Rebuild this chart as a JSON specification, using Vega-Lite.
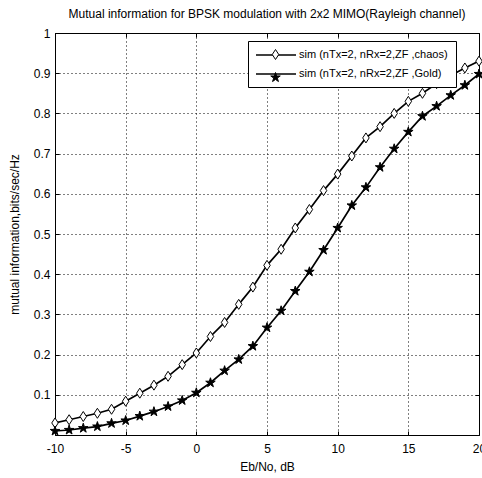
{
  "$schema": "https://vega.github.io/schema/vega-lite/v6.json",
  "autosize": "none",
  "width": 424,
  "height": 402,
  "padding": {"left": 55, "top": 33, "right": 3, "bottom": 43},
  "background": "white",
  "title": {"text": "Mutual information for BPSK modulation with 2x2 MIMO(Rayleigh channel)", "font": "Liberation Sans", "fontSize": 12, "fontWeight": "normal", "color": "black", "anchor": "middle", "baseline": "bottom", "offset": 10, "dy": 16},
  "config": {
    "view": {"stroke": "black", "strokeWidth": 1},
    "axis": {"labelFont": "Liberation Sans", "labelFontSize": 12, "labelColor": "black", "titleFont": "Liberation Sans", "titleFontSize": 12, "titleFontWeight": "normal", "titleColor": "black", "domainColor": "black", "tickColor": "black", "gridColor": "black", "gridDash": [1, 3], "gridOpacity": 1, "gridWidth": 1}
  },
  "data": {"values": [
    {"x": -10, "value": 0.030, "series": "sim (nTx=2, nRx=2,ZF ,chaos)", "marker": "chaos"},
    {"x": -9, "value": 0.038, "series": "sim (nTx=2, nRx=2,ZF ,chaos)", "marker": "chaos"},
    {"x": -8, "value": 0.046, "series": "sim (nTx=2, nRx=2,ZF ,chaos)", "marker": "chaos"},
    {"x": -7, "value": 0.054, "series": "sim (nTx=2, nRx=2,ZF ,chaos)", "marker": "chaos"},
    {"x": -6, "value": 0.064, "series": "sim (nTx=2, nRx=2,ZF ,chaos)", "marker": "chaos"},
    {"x": -5, "value": 0.084, "series": "sim (nTx=2, nRx=2,ZF ,chaos)", "marker": "chaos"},
    {"x": -4, "value": 0.104, "series": "sim (nTx=2, nRx=2,ZF ,chaos)", "marker": "chaos"},
    {"x": -3, "value": 0.124, "series": "sim (nTx=2, nRx=2,ZF ,chaos)", "marker": "chaos"},
    {"x": -2, "value": 0.146, "series": "sim (nTx=2, nRx=2,ZF ,chaos)", "marker": "chaos"},
    {"x": -1, "value": 0.175, "series": "sim (nTx=2, nRx=2,ZF ,chaos)", "marker": "chaos"},
    {"x": 0, "value": 0.204, "series": "sim (nTx=2, nRx=2,ZF ,chaos)", "marker": "chaos"},
    {"x": 1, "value": 0.245, "series": "sim (nTx=2, nRx=2,ZF ,chaos)", "marker": "chaos"},
    {"x": 2, "value": 0.280, "series": "sim (nTx=2, nRx=2,ZF ,chaos)", "marker": "chaos"},
    {"x": 3, "value": 0.325, "series": "sim (nTx=2, nRx=2,ZF ,chaos)", "marker": "chaos"},
    {"x": 4, "value": 0.368, "series": "sim (nTx=2, nRx=2,ZF ,chaos)", "marker": "chaos"},
    {"x": 5, "value": 0.422, "series": "sim (nTx=2, nRx=2,ZF ,chaos)", "marker": "chaos"},
    {"x": 6, "value": 0.462, "series": "sim (nTx=2, nRx=2,ZF ,chaos)", "marker": "chaos"},
    {"x": 7, "value": 0.515, "series": "sim (nTx=2, nRx=2,ZF ,chaos)", "marker": "chaos"},
    {"x": 8, "value": 0.561, "series": "sim (nTx=2, nRx=2,ZF ,chaos)", "marker": "chaos"},
    {"x": 9, "value": 0.608, "series": "sim (nTx=2, nRx=2,ZF ,chaos)", "marker": "chaos"},
    {"x": 10, "value": 0.649, "series": "sim (nTx=2, nRx=2,ZF ,chaos)", "marker": "chaos"},
    {"x": 11, "value": 0.694, "series": "sim (nTx=2, nRx=2,ZF ,chaos)", "marker": "chaos"},
    {"x": 12, "value": 0.739, "series": "sim (nTx=2, nRx=2,ZF ,chaos)", "marker": "chaos"},
    {"x": 13, "value": 0.767, "series": "sim (nTx=2, nRx=2,ZF ,chaos)", "marker": "chaos"},
    {"x": 14, "value": 0.800, "series": "sim (nTx=2, nRx=2,ZF ,chaos)", "marker": "chaos"},
    {"x": 15, "value": 0.830, "series": "sim (nTx=2, nRx=2,ZF ,chaos)", "marker": "chaos"},
    {"x": 16, "value": 0.850, "series": "sim (nTx=2, nRx=2,ZF ,chaos)", "marker": "chaos"},
    {"x": 17, "value": 0.874, "series": "sim (nTx=2, nRx=2,ZF ,chaos)", "marker": "chaos"},
    {"x": 18, "value": 0.894, "series": "sim (nTx=2, nRx=2,ZF ,chaos)", "marker": "chaos"},
    {"x": 19, "value": 0.913, "series": "sim (nTx=2, nRx=2,ZF ,chaos)", "marker": "chaos"},
    {"x": 20, "value": 0.930, "series": "sim (nTx=2, nRx=2,ZF ,chaos)", "marker": "chaos"},
    {"x": -10, "value": 0.010, "series": "sim (nTx=2, nRx=2,ZF ,Gold)", "marker": "Gold"},
    {"x": -9, "value": 0.0125, "series": "sim (nTx=2, nRx=2,ZF ,Gold)", "marker": "Gold"},
    {"x": -8, "value": 0.017, "series": "sim (nTx=2, nRx=2,ZF ,Gold)", "marker": "Gold"},
    {"x": -7, "value": 0.021, "series": "sim (nTx=2, nRx=2,ZF ,Gold)", "marker": "Gold"},
    {"x": -6, "value": 0.029, "series": "sim (nTx=2, nRx=2,ZF ,Gold)", "marker": "Gold"},
    {"x": -5, "value": 0.036, "series": "sim (nTx=2, nRx=2,ZF ,Gold)", "marker": "Gold"},
    {"x": -4, "value": 0.047, "series": "sim (nTx=2, nRx=2,ZF ,Gold)", "marker": "Gold"},
    {"x": -3, "value": 0.058, "series": "sim (nTx=2, nRx=2,ZF ,Gold)", "marker": "Gold"},
    {"x": -2, "value": 0.071, "series": "sim (nTx=2, nRx=2,ZF ,Gold)", "marker": "Gold"},
    {"x": -1, "value": 0.086, "series": "sim (nTx=2, nRx=2,ZF ,Gold)", "marker": "Gold"},
    {"x": 0, "value": 0.105, "series": "sim (nTx=2, nRx=2,ZF ,Gold)", "marker": "Gold"},
    {"x": 1, "value": 0.130, "series": "sim (nTx=2, nRx=2,ZF ,Gold)", "marker": "Gold"},
    {"x": 2, "value": 0.160, "series": "sim (nTx=2, nRx=2,ZF ,Gold)", "marker": "Gold"},
    {"x": 3, "value": 0.188, "series": "sim (nTx=2, nRx=2,ZF ,Gold)", "marker": "Gold"},
    {"x": 4, "value": 0.221, "series": "sim (nTx=2, nRx=2,ZF ,Gold)", "marker": "Gold"},
    {"x": 5, "value": 0.267, "series": "sim (nTx=2, nRx=2,ZF ,Gold)", "marker": "Gold"},
    {"x": 6, "value": 0.309, "series": "sim (nTx=2, nRx=2,ZF ,Gold)", "marker": "Gold"},
    {"x": 7, "value": 0.358, "series": "sim (nTx=2, nRx=2,ZF ,Gold)", "marker": "Gold"},
    {"x": 8, "value": 0.406, "series": "sim (nTx=2, nRx=2,ZF ,Gold)", "marker": "Gold"},
    {"x": 9, "value": 0.460, "series": "sim (nTx=2, nRx=2,ZF ,Gold)", "marker": "Gold"},
    {"x": 10, "value": 0.515, "series": "sim (nTx=2, nRx=2,ZF ,Gold)", "marker": "Gold"},
    {"x": 11, "value": 0.571, "series": "sim (nTx=2, nRx=2,ZF ,Gold)", "marker": "Gold"},
    {"x": 12, "value": 0.616, "series": "sim (nTx=2, nRx=2,ZF ,Gold)", "marker": "Gold"},
    {"x": 13, "value": 0.666, "series": "sim (nTx=2, nRx=2,ZF ,Gold)", "marker": "Gold"},
    {"x": 14, "value": 0.712, "series": "sim (nTx=2, nRx=2,ZF ,Gold)", "marker": "Gold"},
    {"x": 15, "value": 0.754, "series": "sim (nTx=2, nRx=2,ZF ,Gold)", "marker": "Gold"},
    {"x": 16, "value": 0.793, "series": "sim (nTx=2, nRx=2,ZF ,Gold)", "marker": "Gold"},
    {"x": 17, "value": 0.818, "series": "sim (nTx=2, nRx=2,ZF ,Gold)", "marker": "Gold"},
    {"x": 18, "value": 0.845, "series": "sim (nTx=2, nRx=2,ZF ,Gold)", "marker": "Gold"},
    {"x": 19, "value": 0.870, "series": "sim (nTx=2, nRx=2,ZF ,Gold)", "marker": "Gold"},
    {"x": 20, "value": 0.898, "series": "sim (nTx=2, nRx=2,ZF ,Gold)", "marker": "Gold"}
  ]},
  "resolve": {"axis": {"x": "independent", "y": "independent"}},
  "layer": [
    {
      "mark": {"type": "line", "strokeWidth": 1.7, "clip": true},
      "encoding": {
        "x": {"field": "x", "type": "quantitative", "scale": {"domain": [-10, 20], "nice": false, "zero": false},
              "axis": {"orient": "bottom", "values": [-10, -5, 0, 5, 10, 15, 20], "labelExpr": "toString(datum.value)", "grid": true, "tickSize": -4, "labelPadding": 12, "title": "Eb/No, dB", "titlePadding": 7, "labelFlush": false, "labelOverlap": false}},
        "y": {"field": "value", "type": "quantitative", "scale": {"domain": [0, 1], "nice": false},
              "axis": {"orient": "left", "values": [0.1, 0.2, 0.3, 0.4, 0.5, 0.6, 0.7, 0.8, 0.9, 1], "format": ".1~f", "grid": true, "tickSize": -4, "labelPadding": 9, "title": "mutual information,bits/sec/Hz", "titlePadding": 12, "labelFlush": false, "labelOverlap": false}},
        "stroke": {"field": "series", "type": "nominal",
                   "scale": {"domain": ["sim (nTx=2, nRx=2,ZF ,chaos)", "sim (nTx=2, nRx=2,ZF ,Gold)"], "range": ["black", "black"]},
                   "legend": {"orient": "none", "legendX": 193, "legendY": 8, "title": null, "symbolType": "M-4,0L4,0", "symbolSize": 100, "symbolOffset": 14, "symbolStrokeWidth": 1.5, "labelFont": "Liberation Sans", "labelFontSize": 11, "labelColor": "black", "labelOffset": 17, "labelLimit": 0, "padding": 8, "rowPadding": 8, "strokeColor": "black", "fillColor": "white", "zindex": 1}}
      }
    },
    {
      "mark": {"type": "point", "filled": true, "stroke": "black", "strokeWidth": 1, "size": 100, "opacity": 1, "clip": false},
      "encoding": {
        "x": {"field": "x", "type": "quantitative", "axis": {"orient": "top", "values": [-10, -5, 0, 5, 10, 15, 20], "labels": false, "grid": false, "tickSize": -4, "title": null, "domain": false}},
        "y": {"field": "value", "type": "quantitative", "axis": {"orient": "right", "values": [0.1, 0.2, 0.3, 0.4, 0.5, 0.6, 0.7, 0.8, 0.9, 1], "labels": false, "grid": false, "tickSize": -4, "title": null, "domain": false}},
        "shape": {"field": "marker", "type": "nominal",
                  "scale": {"domain": ["chaos", "Gold"], "range": ["M0,-1L0.65,0L0,1L-0.65,0Z", "M0,-1L0.223,-0.307L0.951,-0.309L0.361,0.117L0.588,0.809L0,0.38L-0.588,0.809L-0.361,0.117L-0.951,-0.309L-0.223,-0.307Z"]},
                  "legend": {"orient": "none", "legendX": 193, "legendY": 8, "title": null, "symbolSize": 100, "symbolOffset": 14, "symbolStrokeColor": "black", "symbolStrokeWidth": 1.5, "labelFont": "Liberation Sans", "labelFontSize": 11, "labelOpacity": 0, "labelExpr": "' '", "labelOffset": 17, "labelLimit": 0, "padding": 8, "rowPadding": 8, "zindex": 2,
                             "encoding": {"symbols": {"stroke": {"value": "black"}, "strokeWidth": {"value": 1}}}}},
        "fill": {"field": "marker", "type": "nominal", "scale": {"domain": ["chaos", "Gold"], "range": ["white", "black"]}}
      }
    }
  ]
}
